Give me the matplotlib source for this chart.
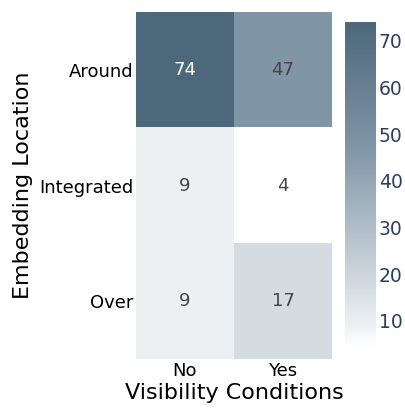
import numpy as np
import matplotlib
matplotlib.use("Agg")
import matplotlib.pyplot as plt
from matplotlib.colors import LinearSegmentedColormap, Normalize

plt.rcParams['font.family'] = ['DejaVu Sans']

# counts per embedding location (rows) and visibility condition (cols)
rows = ['Around', 'Integrated', 'Over']
cols = ['No', 'Yes']
counts = np.array([[74, 47],
                   [9, 4],
                   [9, 17]])

vmin, vmax = counts.min(), counts.max()
cmap = LinearSegmentedColormap.from_list(
    'slate', [(0.0, '#ffffff'), (0.07, '#edf1f4'), (0.19, '#d3dbe1'),
              (0.61, '#8196a7'), (1.0, '#4d687b')])
norm = Normalize(vmin=vmin, vmax=vmax)

W, H = 406, 413
fig = plt.figure(figsize=(W / 100, H / 100), dpi=100)
ax = fig.add_axes([136 / W, (H - 359) / H, 196 / W, 347 / H])

ax.imshow(counts, cmap=cmap, norm=norm, aspect='auto', interpolation='nearest')
for i in range(len(rows)):
    for j in range(len(cols)):
        v = counts[i, j]
        ax.text(j, i, str(v), ha='center', va='center', fontsize=13,
                color='white' if v > 60 else '#444444')

ax.set_xticks(range(len(cols)))
ax.set_xticklabels(cols, fontsize=13)
ax.set_yticks(range(len(rows)))
ax.set_yticklabels(rows, fontsize=13)
ax.tick_params(length=0, pad=2)
for s in ax.spines.values():
    s.set_visible(False)
ax.set_xlabel('Visibility Conditions', fontsize=16, labelpad=2)
ax.set_ylabel('Embedding Location', fontsize=16)
ax.yaxis.set_label_coords(-103 / 196, 0.5)

# colorbar
cax = fig.add_axes([345 / W, (H - 349) / H, 31 / W, 327 / H])
sm = plt.cm.ScalarMappable(cmap=cmap, norm=norm)
cb = fig.colorbar(sm, cax=cax, ticks=[10, 20, 30, 40, 50, 60, 70])
cb.outline.set_visible(False)
cax.tick_params(length=0, labelsize=13.5, labelcolor='#2a3f5f', pad=2)

fig.savefig('out.png', dpi=100)
